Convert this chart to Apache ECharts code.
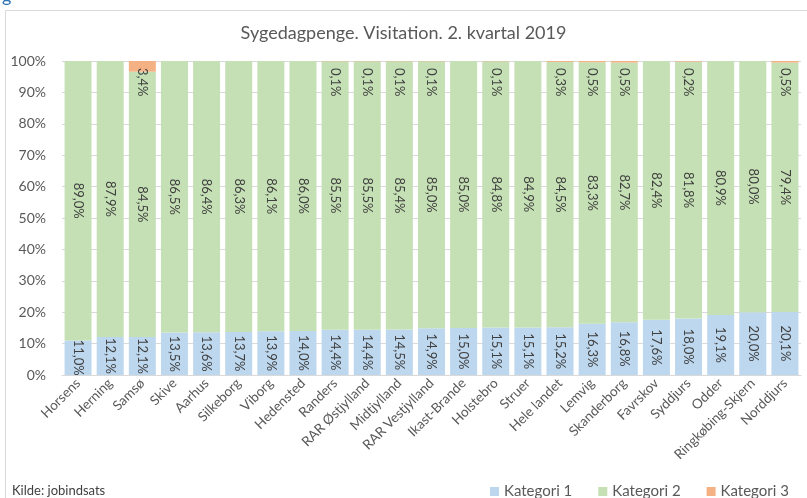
<!DOCTYPE html>
<html lang="da">
<head>
    <meta charset="UTF-8">
    <title>Sygedagpenge</title>
    <style>
        html,body{
            margin: 0px;
            padding: 0px;
            background: #fff;
        }
        #chart{
            width: 807px;
            height: 498px;
        }
    </style>
    <script src="https://cdn.jsdelivr.net/npm/echarts@6/dist/echarts.min.js"></script>
</head>
<body>
<div id="chart"></div>
<script>
    var categories = ['Horsens', 'Herning', 'Samsø', 'Skive', 'Aarhus', 'Silkeborg', 'Viborg', 'Hedensted',
        'Randers', 'RAR Østjylland', 'Midtjylland', 'RAR Vestjylland', 'Ikast-Brande', 'Holstebro', 'Struer',
        'Hele landet', 'Lemvig', 'Skanderborg', 'Favrskov', 'Syddjurs', 'Odder', 'Ringkøbing-Skjern', 'Norddjurs'];
    var kategori1 = [11.0, 12.1, 12.1, 13.5, 13.6, 13.7, 13.9, 14.0, 14.4, 14.4, 14.5, 14.9, 15.0, 15.1, 15.1,
        15.2, 16.3, 16.8, 17.6, 18.0, 19.1, 20.0, 20.1];
    var kategori2 = [89.0, 87.9, 84.5, 86.5, 86.4, 86.3, 86.1, 86.0, 85.5, 85.5, 85.4, 85.0, 85.0, 84.8, 84.9,
        84.5, 83.3, 82.7, 82.4, 81.8, 80.9, 80.0, 79.4];
    var kategori3 = [0, 0, 3.4, 0, 0, 0, 0, 0, 0.1, 0.1, 0.1, 0.1, 0, 0.1, 0,
        0.3, 0.5, 0.5, 0, 0.2, 0, 0, 0.5];

    var font = 'Lato';
    var grey = '#595959';

    function pct(p) {
        if (!p.value) return '';
        return p.value.toFixed(1).replace('.', ',') + '%';
    }

    var chart = echarts.init(document.getElementById('chart'));
    var option = {
        animation: false,
        textStyle: {fontFamily: font},
        title: {
            text: 'Sygedagpenge. Visitation. 2. kvartal 2019',
            left: 'center',
            top: 19,
            textStyle: {fontSize: 18, fontWeight: 'normal', color: grey, fontFamily: font}
        },
        graphic: [
            {
                type: 'rect',
                shape: {x: 5.5, y: 10.5, width: 900, height: 600},
                style: {fill: 'none', stroke: '#d9d9d9', lineWidth: 1},
                silent: true
            },
            {
                type: 'text',
                left: 2,
                top: -13,
                style: {text: 'g', fontSize: 18, fill: '#2e75b6', fontFamily: font}
            },
            {
                type: 'text',
                left: 12,
                top: 484,
                style: {text: 'Kilde: jobindsats', fontSize: 13, fill: '#404040', fontFamily: font}
            }
        ],
        legend: {
            left: 485,
            top: 479,
            icon: 'rect',
            itemWidth: 9,
            itemHeight: 9,
            itemGap: 26,
            itemStyle: {borderWidth: 0},
            textStyle: {fontSize: 15, color: grey, fontFamily: font},
            data: ['Kategori 1', 'Kategori 2', 'Kategori 3']
        },
        grid: {
            left: 62,
            right: 6,
            top: 61,
            bottom: 123
        },
        xAxis: {
            type: 'category',
            data: categories,
            axisTick: {show: false},
            axisLine: {lineStyle: {color: '#d9d9d9'}},
            axisLabel: {
                interval: 0,
                rotate: 45,
                fontSize: 13.5,
                color: grey,
                margin: 6,
                fontFamily: font
            }
        },
        yAxis: {
            type: 'value',
            min: 0,
            max: 100,
            interval: 10,
            axisLine: {show: false},
            axisTick: {show: false},
            splitLine: {lineStyle: {color: '#d9d9d9'}},
            axisLabel: {
                formatter: '{value}%',
                fontSize: 14,
                color: grey,
                margin: 16,
                fontFamily: font
            }
        },
        series: [
            {
                name: 'Kategori 1',
                type: 'bar',
                stack: 'total',
                barCategoryGap: '16%',
                itemStyle: {color: '#bdd7ee'},
                label: {
                    show: true,
                    position: 'inside',
                    rotate: -90,
                    fontSize: 13,
                    color: '#404040',
                    formatter: pct
                },
                data: kategori1
            },
            {
                name: 'Kategori 2',
                type: 'bar',
                stack: 'total',
                itemStyle: {color: '#c5e0b4'},
                label: {
                    show: true,
                    position: 'inside',
                    rotate: -90,
                    fontSize: 13,
                    color: '#404040',
                    formatter: pct
                },
                data: kategori2
            },
            {
                name: 'Kategori 3',
                type: 'bar',
                stack: 'total',
                itemStyle: {color: '#f4b183'},
                label: {
                    show: true,
                    position: ['50%', 7],
                    rotate: -90,
                    align: 'left',
                    verticalAlign: 'middle',
                    fontSize: 13,
                    color: '#404040',
                    formatter: pct
                },
                data: kategori3
            }
        ]
    };

    chart.setOption(option);
</script>
</body>
</html>
